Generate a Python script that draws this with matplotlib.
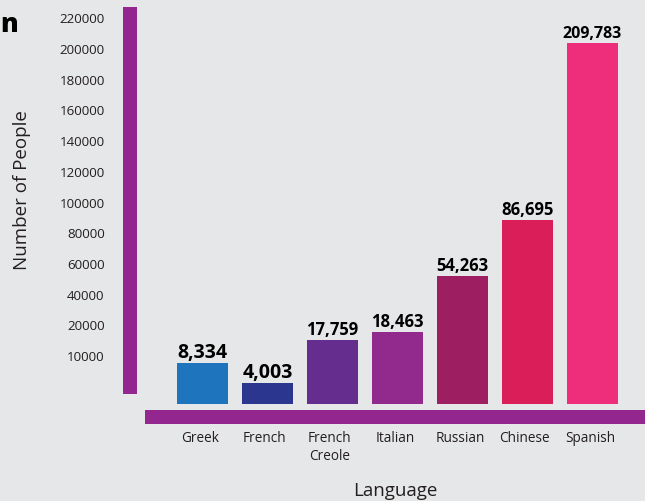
import matplotlib
matplotlib.use("Agg")
import matplotlib.pyplot as plt
from matplotlib.patches import Rectangle
import numpy as np

# ---- data ----
languages = ["Greek", "French", "French\nCreole", "Italian", "Russian", "Chinese", "Spanish"]
speakers = [8334, 4003, 17759, 18463, 54263, 86695, 209783]          # printed labels
bar_heights = [26700, 13700, 41700, 46900, 83400, 119900, 235200]     # drawn heights (as in picture)
tick_labels = ["10000", "20000", "40000", "60000", "80000", "100000", "120000",
               "140000", "160000", "180000", "200000", "220000"]
colors = ["#1e74bd", "#2b368e", "#642d8e", "#922a8e", "#9e1e62", "#da1e5a", "#ee2d7b"]
label_sizes = [14, 14, 12, 12, 12, 12, 11.5]

BG = "#e6e7e8"
PURPLE = "#93278f"
TXT = "#231f20"
W, H = 645, 502

plt.rcParams['font.family'] = ['Open Sans', 'DejaVu Sans']

fig = plt.figure(figsize=(W / 100, H / 100), dpi=100, facecolor=BG)
# axes: x from 145 px to 645 px, y from baseline (405 px) to top (0 px)
ax = fig.add_axes([145 / W, (H - 405) / H, 500 / W, 405 / H])
ax.set_facecolor(BG)

px_per_unit = 1.535 / 1000.0
x = np.arange(len(languages))
ax.bar(x, bar_heights, width=51 / 65, color=colors)
ax.set_xlim(-57.5 / 65, (500 - 57.5) / 65)
ax.set_ylim(0, 405 / px_per_unit)

for xi, h, s, fs in zip(x, bar_heights, speakers, label_sizes):
    ax.annotate(f"{s:,}", (xi, h), xytext=(0, 4), textcoords="offset points",
                ha="center", va="baseline", fontsize=fs, fontweight="bold", color="black")

# y ticks: evenly spaced, as printed in the picture
axis_offset = (405 - 356) / px_per_unit
tick_pos = axis_offset + np.arange(len(tick_labels)) * 20000
ax.set_yticks(tick_pos)
ax.set_yticklabels(tick_labels, fontsize=9.6, color=TXT)
ax.tick_params(axis="y", length=0, pad=29)
ax.set_xticks(x - 0.04)
ax.set_xticklabels(languages, fontsize=9.8, color=TXT, linespacing=1.2, va="top")
ax.tick_params(axis="x", length=0, pad=19)
for sp in ax.spines.values():
    sp.set_visible(False)

ax.set_xlabel("Language", fontsize=13.5, color=TXT, labelpad=13)
fig.text(22 / W, 1 - 190 / H, "Number of People", rotation=90, fontsize=13.5,
         color=TXT, ha="center", va="center")

# decorative axis bars
fig.add_artist(Rectangle((123 / W, (H - 395) / H), 14 / W, 387 / H,
                         transform=fig.transFigure, color=PURPLE, lw=0))
fig.add_artist(Rectangle((145 / W, (H - 425) / H), 500 / W, 14 / H,
                         transform=fig.transFigure, color=PURPLE, lw=0))

# cropped title remnant
fig.text(0, 1 - 32 / H, "n", fontsize=19, fontweight="heavy", color="black",
         ha="left", va="baseline")

fig.savefig("out.png", dpi=100, facecolor=BG)
